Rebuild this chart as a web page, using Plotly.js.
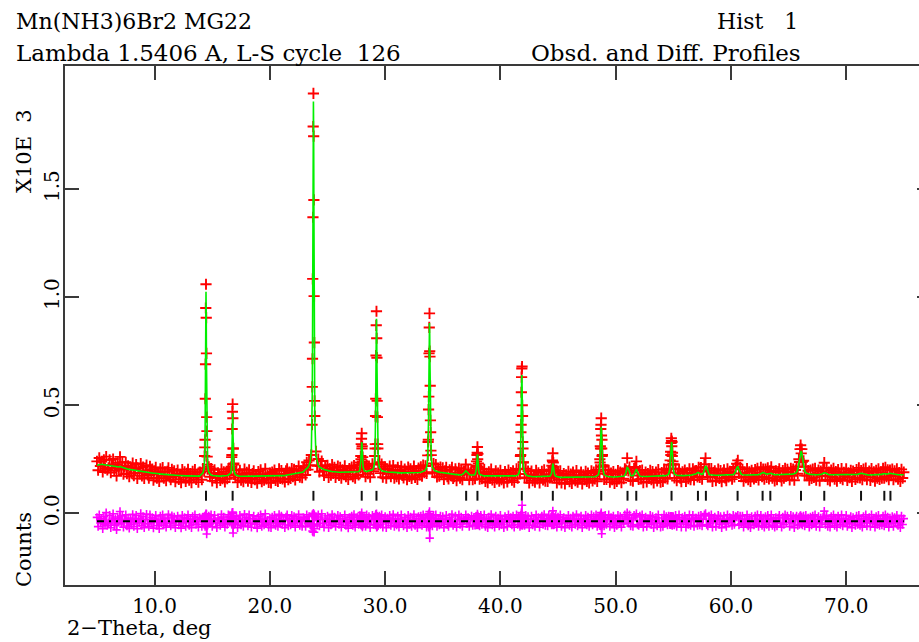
<!DOCTYPE html>
<html><head><meta charset="utf-8">
<script src="https://cdn.plot.ly/plotly-3.0.1.min.js"></script>
<style>html,body{margin:0;padding:0;overflow:hidden;background:#fff;width:919px;height:642px}#chart{width:935px;height:642px}</style>
</head><body><div id="chart"></div>
<script>
// 2-theta positions (deg)
const twoTheta = [
5,5.1,5.2,5.3,5.4,5.5,5.6,5.7,5.8,5.9,
6,6.1,6.2,6.3,6.4,6.5,6.6,6.7,6.8,6.9,
7,7.1,7.2,7.3,7.4,7.5,7.6,7.7,7.8,7.9,
8,8.1,8.2,8.3,8.4,8.5,8.6,8.7,8.8,8.9,
9,9.1,9.2,9.3,9.4,9.5,9.6,9.7,9.8,9.9,
10,10.1,10.2,10.3,10.4,10.5,10.6,10.7,10.8,10.9,
11,11.1,11.2,11.3,11.4,11.5,11.6,11.7,11.8,11.9,
12,12.1,12.2,12.3,12.4,12.5,12.6,12.7,12.8,12.9,
13,13.1,13.2,13.3,13.4,13.5,13.6,13.7,13.8,13.9,
14,14.1,14.2,14.3,
14.34,14.36,14.38,14.4,14.42,14.44,14.46,14.48,14.5,14.52,14.54,14.56,14.58,
14.6,14.7,14.8,14.9,
15,15.1,15.2,15.3,15.4,15.5,15.6,15.7,15.8,15.9,
16,16.1,16.2,16.3,16.4,16.5,16.6,
16.65,16.67,16.69,16.71,16.73,16.75,16.77,16.79,16.81,16.83,16.85,16.87,16.89,
17,17.1,17.2,17.3,17.4,17.5,17.6,17.7,17.8,17.9,
18,18.1,18.2,18.3,18.4,18.5,18.6,18.7,18.8,18.9,
19,19.1,19.2,19.3,19.4,19.5,19.6,19.7,19.8,19.9,
20,20.1,20.2,20.3,20.4,20.5,20.6,20.7,20.8,20.9,
21,21.1,21.2,21.3,21.4,21.5,21.6,21.7,21.8,21.9,
22,22.1,22.2,22.3,22.4,22.5,22.6,22.7,22.8,22.9,
23,23.1,23.2,23.3,23.4,23.5,23.6,
23.66,23.68,23.7,23.72,23.74,23.76,23.78,23.8,23.82,23.84,23.86,23.88,23.9,
24,24.1,24.2,24.3,24.4,24.5,24.6,24.7,24.8,24.9,
25,25.1,25.2,25.3,25.4,25.5,25.6,25.7,25.8,25.9,
26,26.1,26.2,26.3,26.4,26.5,26.6,26.7,26.8,26.9,
27,27.1,27.2,27.3,27.4,27.5,27.6,27.7,27.8,
27.85,27.87,27.89,27.91,27.93,27.95,27.97,27.99,28.01,28.03,28.05,28.07,28.09,
28.2,28.3,28.4,28.5,28.6,28.7,28.8,28.9,29,29.1,
29.13,29.15,29.17,29.19,29.21,29.23,29.25,29.27,29.29,29.31,29.33,29.35,29.37,
29.4,29.5,29.6,29.7,29.8,29.9,
30,30.1,30.2,30.3,30.4,30.5,30.6,30.7,30.8,30.9,
31,31.1,31.2,31.3,31.4,31.5,31.6,31.7,31.8,31.9,
32,32.1,32.2,32.3,32.4,32.5,32.6,32.7,32.8,32.9,
33,33.1,33.2,33.3,33.4,33.5,33.6,33.7,
33.73,33.75,33.77,33.79,33.81,33.83,33.85,33.87,33.89,33.91,33.93,33.95,33.97,
34,34.1,34.2,34.3,34.4,34.5,34.6,34.7,34.8,34.9,
35,35.1,35.2,35.3,35.4,35.5,35.6,35.7,35.8,35.9,
36,36.1,36.2,36.3,36.4,36.5,36.6,36.7,36.8,36.9,
37,37.1,37.2,37.3,37.4,37.5,37.6,37.7,37.8,
37.89,37.91,37.93,37.95,37.97,37.99,38.01,38.03,38.05,38.07,38.09,38.11,38.13,
38.2,38.3,38.4,38.5,38.6,38.7,38.8,38.9,
39,39.1,39.2,39.3,39.4,39.5,39.6,39.7,39.8,39.9,
40,40.1,40.2,40.3,40.4,40.5,40.6,40.7,40.8,40.9,
41,41.1,41.2,41.3,41.4,41.5,41.6,41.7,
41.74,41.76,41.78,41.8,41.82,41.84,41.86,41.88,41.9,41.92,41.94,41.96,41.98,
42,42.1,42.2,42.3,42.4,42.5,42.6,42.7,42.8,42.9,
43,43.1,43.2,43.3,43.4,43.5,43.6,43.7,43.8,43.9,
44,44.1,44.2,44.3,44.4,
44.43,44.45,44.47,44.49,44.51,44.53,44.55,44.57,44.59,44.61,44.63,44.65,44.67,
44.7,44.8,44.9,
45,45.1,45.2,45.3,45.4,45.5,45.6,45.7,45.8,45.9,
46,46.1,46.2,46.3,46.4,46.5,46.6,46.7,46.8,46.9,
47,47.1,47.2,47.3,47.4,47.5,47.6,47.7,47.8,47.9,
48,48.1,48.2,48.3,48.4,48.5,48.6,
48.63,48.65,48.67,48.69,48.71,48.73,48.75,48.77,48.79,48.81,48.83,48.85,48.87,
48.9,
49,49.1,49.2,49.3,49.4,49.5,49.6,49.7,49.8,49.9,
50,50.1,50.2,50.3,50.4,50.5,50.6,50.7,50.8,50.9,
51,51.1,51.2,51.3,51.4,51.5,51.6,51.7,51.8,51.9,
52,52.1,52.2,52.3,52.4,52.5,52.6,52.7,52.8,52.9,
53,53.1,53.2,53.3,53.4,53.5,53.6,53.7,53.8,53.9,
54,54.1,54.2,54.3,54.4,54.5,54.6,54.7,
54.73,54.75,54.77,54.79,54.81,54.83,54.85,54.87,54.89,54.91,54.93,54.95,54.97,
55,55.1,55.2,55.3,55.4,55.5,55.6,55.7,55.8,55.9,
56,56.1,56.2,56.3,56.4,56.5,56.6,56.7,56.8,56.9,
57,57.1,57.2,57.3,57.4,57.5,57.6,57.7,57.8,57.9,
58,58.1,58.2,58.3,58.4,58.5,58.6,58.7,58.8,58.9,
59,59.1,59.2,59.3,59.4,59.5,59.6,59.7,59.8,59.9,
60,60.1,60.2,60.3,60.4,60.5,60.6,60.7,60.8,60.9,
61,61.1,61.2,61.3,61.4,61.5,61.6,61.7,61.8,61.9,
62,62.1,62.2,62.3,62.4,62.5,62.6,62.7,62.8,62.9,
63,63.1,63.2,63.3,63.4,63.5,63.6,63.7,63.8,63.9,
64,64.1,64.2,64.3,64.4,64.5,64.6,64.7,64.8,64.9,
65,65.1,65.2,65.3,65.4,65.5,65.6,65.7,65.8,65.9,65.95,
66,66.05,66.1,66.15,66.2,66.3,66.4,66.5,66.6,66.7,66.8,66.9,
67,67.1,67.2,67.3,67.4,67.5,67.6,67.7,67.8,67.9,
68,68.1,68.2,68.3,68.4,68.5,68.6,68.7,68.8,68.9,
69,69.1,69.2,69.3,69.4,69.5,69.6,69.7,69.8,69.9,
70,70.1,70.2,70.3,70.4,70.5,70.6,70.7,70.8,70.9,
71,71.1,71.2,71.3,71.4,71.5,71.6,71.7,71.8,71.9,
72,72.1,72.2,72.3,72.4,72.5,72.6,72.7,72.8,72.9,
73,73.1,73.2,73.3,73.4,73.5,73.6,73.7,73.8,73.9,
74,74.1,74.2,74.3,74.4,74.5,74.6,74.7,74.8,74.9,75
];

// calculated profile (counts)
const calcCounts = [
222,224,226,227,227,226,225,224,222,221,
220,219,218,217,216,215,214,213,213,214,
216,214,211,209,207,206,205,204,203,202,
201,200,199,198,197,196,196,195,194,193,
192,191,190,190,189,188,187,187,186,185,
185,184,183,183,182,182,181,181,180,180,
179,179,178,178,177,177,177,176,176,176,
175,175,175,174,174,174,174,173,173,173,
173,173,172,172,172,172,172,172,172,172,
177,180,187,210,
243,284,364,504,706,922,1025,922,706,504,364,284,243,
222,190,181,177,
175,174,173,172,172,172,172,172,172,172,
172,173,174,175,177,181,186,
195,209,237,285,354,428,463,428,354,285,237,209,195,
178,175,173,172,171,171,171,171,171,171,
171,171,171,171,171,171,171,171,171,171,
171,171,171,171,171,171,171,171,171,171,
171,171,171,172,172,172,172,173,173,173,
173,174,174,175,176,176,177,178,179,179,
180,181,182,183,184,186,187,188,190,191,
198,202,206,212,222,240,292,
429,555,760,1056,1420,1758,1906,1758,1420,1056,760,555,429,
266,235,221,214,210,207,205,203,201,200,
197,196,195,194,193,192,192,191,191,190,
190,190,190,189,189,189,189,189,189,189,
189,189,189,189,190,190,191,192,198,
213,224,242,267,294,320,330,320,294,267,242,224,213,
196,194,193,195,196,197,198,201,210,245,
285,337,423,546,697,838,900,838,697,546,423,337,285,
246,211,201,197,195,193,
193,192,191,191,190,190,189,189,188,188,
188,188,187,187,187,187,186,186,186,186,
186,186,186,186,186,186,186,186,187,187,
189,190,192,193,196,201,212,253,
302,360,448,568,704,828,880,828,704,568,448,360,302,
254,212,202,197,195,193,192,190,189,189,
188,187,186,185,184,184,183,182,181,181,
181,180,179,179,178,178,177,180,183,190,
196,192,184,180,177,176,175,177,179,
192,202,215,232,250,266,273,266,250,232,215,202,192,
180,177,175,174,173,173,173,172,
172,172,172,172,172,171,171,171,171,171,
171,171,171,171,171,170,170,170,170,170,
171,171,172,173,175,177,184,207,
246,286,346,428,520,605,640,605,520,428,346,286,246,
221,186,178,175,173,171,170,170,169,169,
169,169,169,169,169,169,169,169,169,169,
169,169,170,172,180,
182,188,197,207,218,226,230,226,218,207,197,188,182,
180,171,169,
167,167,166,166,166,166,166,166,166,166,
166,166,166,166,166,166,166,166,166,166,
166,166,166,166,166,166,166,166,166,166,
168,169,169,171,173,178,203,
228,252,284,321,358,388,400,388,358,321,284,252,228,
204,
179,174,172,170,169,169,168,168,168,168,
168,168,169,169,169,170,171,172,176,190,
215,206,184,175,174,174,179,194,205,190,
177,173,171,170,170,170,170,170,171,171,
171,171,171,171,171,172,172,172,172,172,
173,173,174,174,175,177,181,204,
224,241,262,285,307,324,330,324,307,285,262,241,224,
205,182,178,176,175,174,174,174,174,174,
175,175,175,175,176,176,177,178,179,181,
183,188,188,184,183,180,183,197,219,211,
190,181,178,177,176,176,176,176,176,176,
176,176,176,176,176,176,176,176,176,176,
177,178,179,183,192,209,217,202,188,181,
178,177,177,177,177,177,177,177,177,177,
177,177,178,178,179,181,185,189,189,186,
182,181,182,184,186,185,182,179,178,178,
178,178,178,178,178,178,178,178,178,178,
179,179,180,181,182,183,185,190,203,232,252,
272,288,289,277,256,218,196,187,184,182,181,180,
179,179,178,178,178,178,178,178,180,182,
186,187,186,182,180,178,178,178,178,178,
178,178,177,177,177,177,177,177,177,177,
177,177,177,177,177,177,177,177,177,177,
180,182,184,185,184,182,180,179,177,177,
177,177,177,177,177,177,177,177,177,177,
178,180,183,184,183,181,181,183,185,184,
182,180,178,178,178,178,178,178,178,178,178
];

// observed counts
const obsCounts = [
240,199,256,219,239,191,247,209,262,201,
210,247,188,222,251,197,226,173,233,209,
261,202,236,181,215,236,183,219,170,212,
186,232,174,203,225,161,208,187,230,173,
214,161,198,223,177,163,217,182,204,153,
195,212,163,188,147,206,173,211,162,192,
151,194,210,168,155,203,172,196,146,184,
200,157,180,142,202,166,192,148,185,203,
153,183,142,194,167,202,157,180,144,190,
189,155,207,195,
265,305,340,530,690,950,1060,905,740,445,380,262,225,
204,215,169,207,
150,184,201,164,142,187,177,152,204,160,
192,145,182,160,207,176,208,
215,200,260,270,390,470,505,440,300,300,225,230,180,
166,200,143,182,199,153,176,146,204,163,
189,149,201,161,143,183,196,156,179,139,
193,166,201,146,181,153,206,159,176,143,
186,141,191,164,200,152,182,148,205,161,
198,159,182,145,196,206,155,190,161,207,
170,203,154,198,179,218,167,196,165,209,
213,177,236,202,244,222,270,
410,585,715,1085,1370,1790,1943,1745,1450,1005,790,520,450,
286,220,251,192,218,242,195,175,216,195,
222,166,205,176,225,184,212,166,196,218,
175,212,162,201,184,219,169,197,157,207,
179,214,169,221,162,195,209,177,225,
235,210,265,250,320,345,370,300,310,240,260,205,230,
214,169,223,183,218,167,206,229,195,265,
300,320,450,530,730,870,935,810,720,520,445,320,300,
226,236,186,227,167,203,
215,162,206,183,218,170,194,221,163,200,
170,213,159,197,217,175,164,204,191,156,
214,171,206,161,194,218,166,198,157,209,
177,215,172,223,188,219,184,268,
330,340,480,540,740,860,925,750,725,590,430,375,290,
269,190,230,187,225,168,204,172,214,181,
210,157,196,213,169,159,201,174,213,161,
169,205,151,187,208,163,197,155,195,195,
226,180,202,155,187,201,155,192,160,
215,185,240,220,270,280,307,250,275,215,230,190,210,
158,205,160,182,203,148,185,142,
192,162,204,154,177,143,196,159,186,149,
199,156,179,141,193,180,145,200,165,188,
153,196,144,185,205,162,204,182,
265,270,375,410,560,630,670,679,500,450,330,300,235,
236,166,206,163,195,141,180,195,151,177,
144,199,159,187,141,174,194,154,201,149,
181,147,198,164,200,
200,170,220,195,245,240,278,210,235,190,215,175,200,
165,196,141,
187,155,196,141,174,184,136,178,158,194,
146,181,138,191,171,151,198,144,176,161,
191,136,178,156,194,148,186,141,174,196,
150,191,159,201,148,193,183,
250,235,310,300,390,410,440,360,300,340,265,270,215,
222,
157,202,157,180,199,144,186,156,193,138,
180,148,197,161,191,142,186,160,206,200,
255,196,214,153,189,149,207,214,240,175,
157,198,159,200,142,178,190,145,183,163,
199,156,193,141,176,190,150,202,162,144,
188,148,204,164,197,159,206,189,
245,225,285,270,325,347,335,310,330,265,280,225,240,
227,164,206,151,185,204,162,146,192,169,
200,147,187,160,206,156,185,206,154,196,
198,168,213,166,211,158,193,227,255,196,
168,206,168,207,148,188,196,151,181,204,
161,198,146,186,201,164,151,206,168,194,
189,158,207,168,214,229,245,184,213,169,
203,149,187,165,207,155,192,147,199,172,
159,202,166,208,154,189,213,169,204,158,
204,166,210,159,196,215,162,191,150,196,
156,193,206,168,150,198,163,208,173,203,
191,154,208,173,204,153,200,215,183,250,237,
297,315,277,297,238,243,174,215,174,197,153,200,
161,204,166,208,153,186,200,150,195,174,
206,234,171,210,155,190,150,200,168,208,
158,193,149,202,185,162,207,155,189,172,
205,152,187,165,199,147,195,182,157,202,
165,210,164,197,156,204,172,209,155,187,
195,152,207,167,192,149,199,162,205,157,
190,162,208,162,213,169,201,155,200,174,
204,155,196,170,206,158,188,148,203,163,190
];

// reflection positions (deg)
const reflPos = [14.46,16.77,23.78,27.97,29.25,33.85,37.03,38.01,41.86,44.55,48.75,51.03,51.79,54.85,57.14,57.83,60.58,62.75,63.42,66.08,68.1,71.29,73.31,73.84];

// tick labels
const xTickVals = [10,20,30,40,50,60,70];
const xTickText = ['10.0','20.0','30.0','40.0','50.0','60.0','70.0'];
const yTickVals = [0,0.5,1.0,1.5];
const yTickText = ['0.0','0.5','1.0','1.5'];

const countScale = 1000;   // axis in X10E 3
const diffOffset = -37;    // counts, position of difference curve
const reflLevel = 0.081;   // axis units, reflection tick row

if (twoTheta.length !== obsCounts.length || twoTheta.length !== calcCounts.length) {
  throw new Error('length mismatch ' + twoTheta.length + ' ' + obsCounts.length + ' ' + calcCounts.length);
}

const obsY = obsCounts.map(v => v / countScale);
const calcY = calcCounts.map(v => v / countScale);
const diffY = obsCounts.map((v, i) => (v - calcCounts[i] + diffOffset) / countScale);
const xFirst = twoTheta[0], xLast = twoTheta[twoTheta.length - 1];

const traces = [
  {x: twoTheta, y: obsY, type: 'scatter', mode: 'markers',
   marker: {symbol: 'cross-thin', size: 8, color: '#ff0000', line: {width: 1.9, color: '#ff0000'}},
   hoverinfo: 'skip'},
  {x: twoTheta, y: calcY, type: 'scatter', mode: 'lines',
   line: {color: '#00f000', width: 1.6}, hoverinfo: 'skip'},
  {x: reflPos, y: reflPos.map(() => reflLevel), type: 'scatter', mode: 'markers',
   marker: {symbol: 'line-ns', size: 7, color: '#111', line: {width: 2, color: '#111'}}, hoverinfo: 'skip'},
  {x: twoTheta, y: diffY, type: 'scatter', mode: 'lines+markers',
   line: {color: '#ff00ff', width: 1.6},
   marker: {symbol: 'cross-thin', size: 6, color: '#ff00ff', line: {width: 1.6, color: '#ff00ff'}},
   hoverinfo: 'skip'},
  {x: [xFirst, xLast], y: [diffOffset / countScale, diffOffset / countScale], type: 'scatter', mode: 'lines',
   line: {color: '#000', width: 1.8, dash: '7px,5px,2px,5px,2px,5px'}, hoverinfo: 'skip'}
];

const F = 'DejaVu Serif, Liberation Serif, serif';
const axisCommon = {
  ticks: 'inside', ticklen: 14, tickwidth: 2, tickcolor: '#3a3a3a',
  showline: true, linecolor: '#3a3a3a', linewidth: 2, mirror: 'ticks',
  showgrid: false, zeroline: false, fixedrange: true,
  tickfont: {family: F, size: 20, color: '#000'}
};

// paper coordinate helpers (plot area 65..931 x 66..585 px)
const PL = 65, PW = 866, PB = 585, PH = 519;
const px = v => (v - PL) / PW;
const py = v => (PB - v) / PH;

const ann = (text, x, y, xanchor, size, angle) => ({
  text, x: px(x), y: py(y), xanchor, yanchor: 'middle', textangle: angle || 0,
  xref: 'paper', yref: 'paper', showarrow: false,
  font: {family: F, size, color: '#000'}
});

const layout = {
  width: 935, height: 642,
  margin: {l: 65, r: 4, t: 66, b: 57, pad: 0},
  paper_bgcolor: '#fff', plot_bgcolor: '#fff',
  showlegend: false,
  xaxis: Object.assign({}, axisCommon, {
    range: [2.227, 77.36], tickvals: xTickVals, ticktext: xTickText, ticklabelstandoff: 2
  }),
  yaxis: Object.assign({}, axisCommon, {
    range: [-0.332, 2.07], tickvals: yTickVals, ticktext: yTickText, tickangle: -90, ticklabelstandoff: -4
  }),
  annotations: [
    ann('Mn(NH3)6Br2 MG22', 14, 21, 'left', 22),
    ann('Lambda 1.5406 A, L-S cycle\u00a0\u00a0126', 14, 53, 'left', 23),
    ann('Hist\u00a0\u00a0\u00a01', 800, 21, 'right', 22),
    ann('Obsd. and Diff. Profiles', 803, 53, 'right', 23),
    ann('X10E\u00a0\u00a03', 24, 151, 'center', 21, -90),
    ann('Counts', 24, 550, 'center', 21, -90),
    ann('2\u2212Theta, deg', 65, 628, 'left', 21)
  ]
};

Plotly.newPlot('chart', traces, layout, {displayModeBar: false, staticPlot: true});
</script></body></html>
